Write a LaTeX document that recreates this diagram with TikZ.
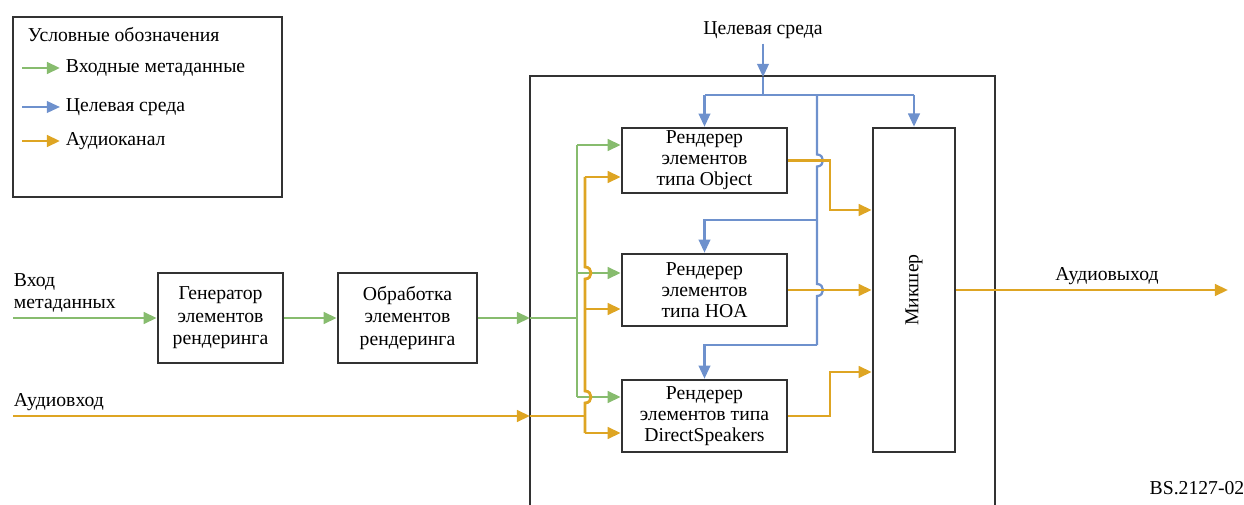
\documentclass[tikz,border=0pt]{standalone}
\usepackage{fontspec}
\setmainfont{Liberation Serif}
\usetikzlibrary{arrows.meta}

\definecolor{metagreen}{RGB}{135,188,110}
\definecolor{envblue}{RGB}{110,145,205}
\definecolor{audiogold}{RGB}{222,165,35}
\definecolor{boxgray}{RGB}{50,50,50}
\newcommand{\diagfont}{\fontsize{14}{16}\selectfont}
\newcommand{\rendfont}{\fontsize{14}{15}\selectfont}

\begin{document}
\begin{tikzpicture}[
    x=0.025cm, y=-0.025cm,
    every node/.style={font=\diagfont},
    block/.style={draw=boxgray, line width=1.8pt, fill=white, align=center, inner sep=0pt},
    rend/.style={block, font=\rendfont, minimum width=4.125cm},
    arr/.style={-{Triangle[length=3.3mm, width=2.9mm]}},
    meta/.style={metagreen, line width=2pt},
    env/.style={envblue, line width=1.6pt},
    audio/.style={audiogold, line width=2pt},
    txt/.style={anchor=west, align=left},
]
\useasboundingbox (0,0) rectangle (1244,505);

% legend
\draw[boxgray, line width=1.5pt] (13,17) rectangle (282,197);
\node[txt] (legTitle) at (23,35) {Условные обозначения};
\coordinate (lgM1) at (22,68);  \coordinate (lgM2) at (60,68);
\coordinate (lgE1) at (22,107); \coordinate (lgE2) at (60,107);
\coordinate (lgA1) at (22,141); \coordinate (lgA2) at (60,141);
\draw[meta, arr] (lgM1) -- (lgM2);
\draw[env, arr] (lgE1) -- (lgE2);
\draw[audio, arr] (lgA1) -- (lgA2);
\node[txt] (legMeta)  at (61,68)  {Входные метаданные};
\node[txt] (legEnv)   at (61,107) {Целевая среда};
\node[txt] (legAudio) at (61,141) {Аудиоканал};

% inputs
\node[txt] (metaLbl)  at (9,293) {Вход\\метаданных};
\node[txt] (audioLbl) at (9,402) {Аудиовход};
\coordinate (metaIn)  at (13,318);
\coordinate (audioIn) at (13,416);

\node[block, minimum width=3.125cm, minimum height=2.25cm] (gen)  at (220.5,318) {Генератор\\элементов\\рендеринга};
\node[block, minimum width=3.475cm, minimum height=2.25cm] (proc) at (407.5,318) {Обработка\\элементов\\рендеринга};

% renderer frame
\draw[boxgray, line width=1.6pt] (530,506) -- (530,76) -- (995,76) -- (995,506);

\node[rend, minimum height=1.625cm] (obj) at (704.5,160.5) {Рендерер\\элементов\\типа Object};
\node[rend, minimum height=1.8cm]   (hoa) at (704.5,290)   {Рендерер\\элементов\\типа HOA};
\node[rend, minimum height=1.8cm]   (ds)  at (704.5,416)   {Рендерер\\элементов типа\\DirectSpeakers};
\node[block, minimum width=2.05cm, minimum height=8.1cm] (mix) at (914,290) {};
\node[rotate=90] (mixLbl) at (mix.center) {Микшер};

% metadata path
\coordinate (metaPort) at (530,318);
\draw[meta, arr] (metaIn) -- (gen);
\draw[meta, arr] (gen) -- (proc);
\draw[meta, arr] (proc) -- (metaPort);
\draw[meta] (metaPort) -- (577,318);
\draw[meta] (577,145) -- (577,397);
\draw[meta, arr] (577,145) -- (obj.west |- 0,145);
\draw[meta, arr] (577,273) -- (hoa.west |- 0,273);
\draw[meta, arr] (577,397) -- (ds.west |- 0,397);

% audio in
\coordinate (audioPort) at (530,416);
\draw[audio, arr] (audioIn) -- (audioPort);
\draw[audio] (audioPort) -- (585,416);
\draw[audio] (585,177) -- (585,267) .. controls (593,267) and (593,279) .. (585,279)
    -- (585,391) .. controls (593,391) and (593,403) .. (585,403) -- (585,433);
\draw[audio, arr] (585,177) -- (obj.west |- 0,177);
\draw[audio, arr] (585,309) -- (hoa.west |- 0,309);
\draw[audio, arr] (585,433) -- (ds.west |- 0,433);

% target environment
\node (envLbl) at (763,30) {Целевая среда};
\coordinate (envPort) at (763,77);
\draw[env, arr] (envLbl) -- (envPort);
\draw[env] (envPort) -- (763,95);
\draw[env] (705,95) -- (914,95);
\draw[env, arr] (obj.north |- 0,95) -- (obj.north);
\draw[env, arr] (mix.north |- 0,95) -- (mix.north);
\draw[env] (817,95) -- (817,154.5) .. controls (825,154.5) and (825,166.5) .. (817,166.5)
    -- (817,284) .. controls (825,284) and (825,296) .. (817,296) -- (817,345);
\draw[env, arr] (817,220) -- (hoa.north |- 0,220) -- (hoa.north);
\draw[env, arr] (817,345) -- (ds.north |- 0,345) -- (ds.north);

% renderer outputs
\draw[audio, arr] (obj.east) -- (830,160.5) -- (830,210) -- (mix.west |- 0,210);
\draw[audio, arr] (hoa.east) -- (mix.west |- hoa.east);
\draw[audio, arr] (ds.east) -- (830,416) -- (830,372) -- (mix.west |- 0,372);

% output
\coordinate (audioOut) at (1228,290);
\draw[audio, arr] (mix.east) -- (audioOut);
\node (outLbl) at (1107,276) {Аудиовыход};

\node (figId) at (1197,488) {BS.2127-02};
\end{tikzpicture}
\end{document}
